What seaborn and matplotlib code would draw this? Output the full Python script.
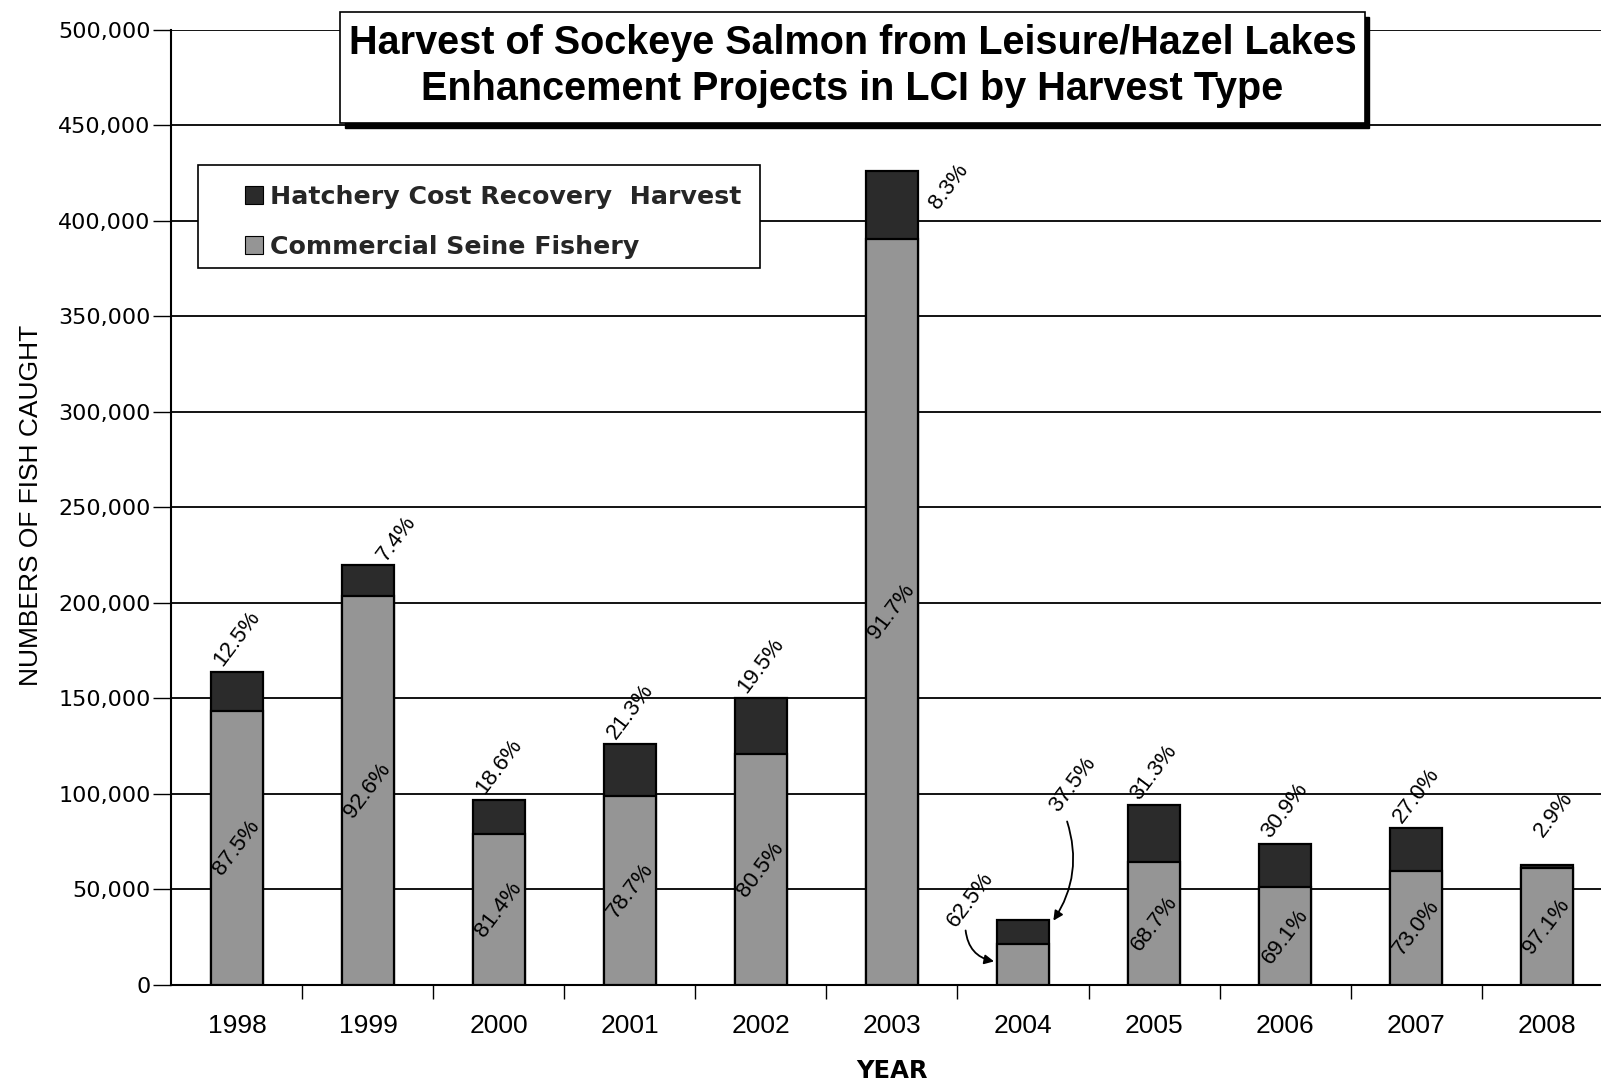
import numpy as np
import pandas as pd
import matplotlib
matplotlib.use("Agg")
import matplotlib.pyplot as plt
from matplotlib.patches import Rectangle
from matplotlib.lines import Line2D
from matplotlib.ticker import FuncFormatter
import seaborn as sns

# Sockeye harvest from the Leisure/Hazel Lakes enhancement projects
years = ["1998", "1999", "2000", "2001", "2002", "2003",
         "2004", "2005", "2006", "2007", "2008"]
total_harvest = [164000, 220000, 97000, 126000, 150000, 426000,
                 34000, 94000, 74000, 82000, 63000]
hatchery_pct = [12.5, 7.4, 18.6, 21.3, 19.5, 8.3, 37.5, 31.3, 30.9, 27.0, 2.9]
seine_pct = [87.5, 92.6, 81.4, 78.7, 80.5, 91.7, 62.5, 68.7, 69.1, 73.0, 97.1]

df = pd.DataFrame({"year": years, "total": total_harvest,
                   "hatchery_pct": hatchery_pct, "seine_pct": seine_pct})
df["seine"] = df["total"] * df["seine_pct"] / 100.0
df["hatchery"] = df["total"] - df["seine"]

sns.set_theme(style="white")
plt.rcParams["font.family"] = ["Liberation Sans", "DejaVu Sans"]

HATCHERY_COLOR = "#2b2b2b"
SEINE_COLOR = "#959595"
LABEL_SIZE = 16
LABEL_ROT = 53

fig = plt.figure(figsize=(16.01, 10.86), dpi=100)
ax = fig.add_axes([0.1071, 0.0930, 0.9001, 0.8794])

# full stack (hatchery on top), then the seine portion over it
sns.barplot(data=df, x="year", y="total", color=HATCHERY_COLOR, saturation=1,
            width=0.4, edgecolor="black", linewidth=1.6, errorbar=None,
            ax=ax, zorder=3)
sns.barplot(data=df, x="year", y="seine", color=SEINE_COLOR, saturation=1,
            width=0.4, edgecolor="black", linewidth=1.6, errorbar=None,
            ax=ax, zorder=4)

ax.set_xlim(-0.5, 10.5)
ax.set_ylim(0, 500000)
ax.set_yticks(np.arange(0, 500001, 50000))
ax.yaxis.set_major_formatter(FuncFormatter(lambda v, p: f"{v:,.0f}"))
ax.yaxis.grid(True, color="black", linewidth=1.3)
ax.set_axisbelow(True)

for side in ["top", "right"]:
    ax.spines[side].set_visible(False)
for side in ["left", "bottom"]:
    ax.spines[side].set_color("black")
    ax.spines[side].set_linewidth(1.5)

ax.set_xticks(np.arange(0.5, 10.5, 1.0), minor=True)
ax.tick_params(axis="x", which="major", length=0, pad=21, labelsize=19,
               labelcolor="black")
ax.tick_params(axis="x", which="minor", length=10, width=1.0,
               color="black", direction="out", bottom=True)
ax.tick_params(axis="y", which="major", length=13, width=1.0, color="black",
               direction="out", left=True, pad=2, labelsize=16,
               labelcolor="black", labelfontfamily="DejaVu Sans")

ax.set_xlabel("")
ax.set_ylabel("")

# hatchery share labels above each bar, seine share inside the bar
label_offsets = {"1999": (21, 19), "2003": (41, -11), "2008": (5, 36)}
for i, row in df.iterrows():
    if row["year"] == "2004":
        continue
    off = label_offsets.get(row["year"], (0, 24))
    ax.annotate(f"{row['hatchery_pct']:.1f}%", xy=(i, row["total"]),
                xytext=off, textcoords="offset points", ha="center",
                va="center", rotation=LABEL_ROT, fontsize=LABEL_SIZE,
                color="black", zorder=6)
    ax.text(i, row["seine"] / 2, f"{row['seine_pct']:.1f}%", ha="center",
            va="center", rotation=LABEL_ROT, fontsize=LABEL_SIZE,
            color="black", zorder=6)

# 2004 labels sit beside the short bar with arrows
i04 = years.index("2004")
r04 = df.iloc[i04]
ax.text(i04 - 0.40, 45000, f"{r04['seine_pct']:.1f}%", ha="center",
        va="center", rotation=LABEL_ROT, fontsize=LABEL_SIZE, color="black",
        zorder=6)
ax.annotate("", xy=(i04 - 0.2, r04["seine"] * 0.57),
            xytext=(i04 - 0.44, 30000),
            arrowprops=dict(arrowstyle="-|>", color="black", lw=1.3,
                            connectionstyle="arc3,rad=0.4",
                            mutation_scale=14), zorder=6)
ax.text(i04 + 0.38, 105000, f"{r04['hatchery_pct']:.1f}%", ha="center",
        va="center", rotation=LABEL_ROT, fontsize=LABEL_SIZE, color="black",
        zorder=6)
ax.annotate("", xy=(i04 + 0.22, r04["total"] - 1500),
            xytext=(i04 + 0.33, 87000),
            arrowprops=dict(arrowstyle="-|>", color="black", lw=1.3,
                            connectionstyle="arc3,rad=-0.25",
                            mutation_scale=14), zorder=6)

# legend: boxed panel with two square keys
ax.add_patch(Rectangle((0.0184, 0.7508), 0.390, 0.1078, transform=ax.transAxes,
                       facecolor="white", edgecolor="black", linewidth=1.2,
                       zorder=9))
handles = [Line2D([], [], linestyle="none", marker="s", markersize=13,
                  markerfacecolor=HATCHERY_COLOR, markeredgecolor="black",
                  markeredgewidth=0.8, label="Hatchery Cost Recovery  Harvest"),
           Line2D([], [], linestyle="none", marker="s", markersize=13,
                  markerfacecolor=SEINE_COLOR, markeredgecolor="black",
                  markeredgewidth=0.8, label="Commercial Seine Fishery")]
leg = ax.legend(handles=handles, loc="upper left",
                bbox_to_anchor=(0.0500, 0.838), frameon=False,
                handlelength=0.8, handletextpad=0.25, borderpad=0,
                borderaxespad=0, labelspacing=1.05,
                prop={"weight": "bold", "size": 18.2, "family": "DejaVu Sans"})
leg.set_zorder(10)

# title box with drop shadow
fig.patches.append(Rectangle((0.2154, 0.8821), 0.640, 0.1022,
                             transform=fig.transFigure, facecolor="black",
                             edgecolor="black", zorder=8))
fig.patches.append(Rectangle((0.2124, 0.8867), 0.640, 0.1022,
                             transform=fig.transFigure, facecolor="white",
                             edgecolor="black", linewidth=1.2, zorder=9))
fig.text(0.5325, 0.960, "Harvest of Sockeye Salmon from Leisure/Hazel Lakes",
         ha="center", va="center", fontsize=28.5, fontweight="bold",
         color="black", zorder=11)
fig.text(0.5325, 0.918, "Enhancement Projects in LCI by Harvest Type",
         ha="center", va="center", fontsize=28.5, fontweight="bold",
         color="black", zorder=11)

fig.text(0.0194, 0.535, "NUMBERS OF FISH CAUGHT", rotation=90,
         ha="center", va="center", fontsize=19,
         family=["Liberation Sans Narrow", "Liberation Sans"], color="black")
fig.text(0.557, 0.0138, "YEAR", ha="center", va="center", fontsize=17.5,
         fontweight="bold", family="DejaVu Sans", color="black")

fig.savefig("out.png", dpi=100)
